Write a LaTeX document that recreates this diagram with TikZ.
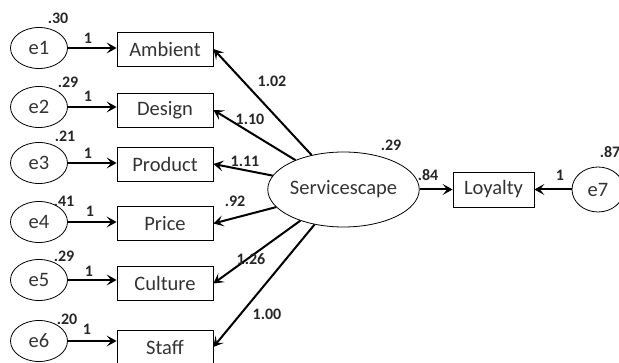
\documentclass[tikz,border=0pt]{standalone}
\usepackage{fontspec}
\setmainfont{Carlito}
\usetikzlibrary{shapes.geometric,arrows.meta}
\begin{document}
\begin{tikzpicture}[x=1pt,y=-1pt,
  txt/.style={font=\fontsize{20.5}{22}\selectfont, text=black!80},
  err/.style={ellipse, draw, line width=0.8pt, minimum width=57pt, minimum height=41pt, inner sep=0pt, txt},
  obs/.style={rectangle, draw, line width=0.8pt, minimum width=96pt, minimum height=34pt, inner sep=0pt, txt},
  num/.style={font=\fontsize{16}{17}\selectfont\bfseries, text=black!85, inner sep=0pt},
  arr/.style={line width=2pt, -{Stealth[length=10pt,width=11pt,inset=4.5pt]}}
]
\useasboundingbox (0,0) rectangle (619,363);

% error terms
\node[err] (e1) at (39,48) {e1};
\node[err] (e2) at (39,107) {e2};
\node[err] (e3) at (39,163) {e3};
\node[err] (e4) at (39,222) {e4};
\node[err] (e5) at (39,280) {e5};
\node[err] (e6) at (39,341) {e6};

% observed variables
\node[obs] (amb) at (165,49) {Ambient};
\node[obs] (des) at (165,110) {Design};
\node[obs] (pro) at (165,164) {Product};
\node[obs] (pri) at (165,223.5) {Price};
\node[obs] (cul) at (165,283.5) {Culture};
\node[obs] (sta) at (165,347) {Staff};

% latent and outcome
\node[ellipse, draw, line width=0.8pt, minimum width=133pt, minimum height=75pt, inner sep=0pt, txt] (svc) at (343.5,189.5) {Servicescape};
\node[obs, minimum width=81pt, minimum height=35pt] (loy) at (493.5,189.5) {Loyalty};
\node[err, minimum width=52pt, minimum height=45pt] (e7) at (598,189.5) {e7};

% error arrows
\foreach \e/\b in {e1/amb,e2/des,e3/pro,e4/pri,e5/cul,e6/sta}
  \draw[arr] (\e.east) -- (\e.east -| \b.west);

% loadings
\foreach \b in {amb,des,pro,pri,cul,sta}
  \draw[arr] (svc) -- (\b.east);

\draw[arr] (svc.east) -- (loy.west);
\draw[arr] (e7.west) -- (loy.east);

% variance labels
\node[num] (v1) at (58,18) {.30};
\node[num] (v2) at (68,82) {.29};
\node[num] (v3) at (65,136) {.21};
\node[num] (v4) at (64,201) {.41};
\node[num] (v5) at (64,256) {.29};
\node[num] (v6) at (67,319) {.20};
\node[num] (v7) at (391,145) {.29};
\node[num] (v8) at (610,152) {.87};

% fixed paths
\node[num] (f1) at (88,38) {1};
\node[num] (f2) at (88,96) {1};
\node[num] (f3) at (88,153) {1};
\node[num] (f4) at (90,211) {1};
\node[num] (f5) at (89,271) {1};
\node[num] (f6) at (87,329) {1};
\node[num] (f7) at (560,175) {1};

% loading labels
\node[num] (l1) at (272,81) {1.02};
\node[num] (l2) at (250,119) {1.10};
\node[num] (l3) at (245,161) {1.11};
\node[num] (l4) at (235,201) {.92};
\node[num] (l5) at (251,259) {1.26};
\node[num] (l6) at (267,314) {1.00};
\node[num] (l7) at (428,175) {.84};
\end{tikzpicture}
\end{document}
